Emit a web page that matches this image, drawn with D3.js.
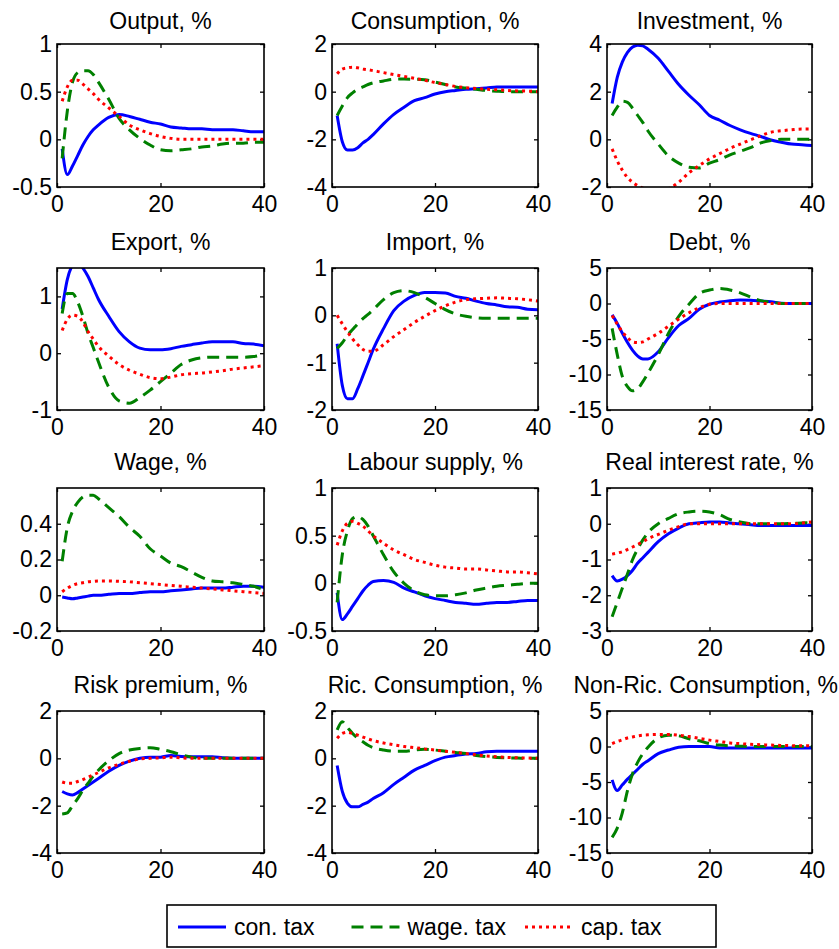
<html>
<head>
<style>
  body { margin: 0; background: #fff; }
  svg { display: block; }
  text { font-family: "Liberation Sans", Arial, sans-serif; fill: #000; }
  .tick line { stroke: #000; stroke-width: 1.3px; }
  .series { fill: none; stroke-width: 3px; stroke-linejoin: round; }
</style>
<script src="https://d3js.org/d3.v7.min.js"></script>
</head>
<body>
<div id="container"></div>
<script>

const periods = [1,2,3,4,5,6,7,8,10,12,14,16,18,20,22,24,26,28,30,32,34,36,38,40];

const titles = ["Output, %","Consumption, %","Investment, %","Export, %","Import, %","Debt, %",
  "Wage, %","Labour supply, %","Real interest rate, %","Risk premium, %","Ric. Consumption, %","Non-Ric. Consumption, %"];

const yDomains = [[-0.5,1],[-4,2],[-2,4],[-1,1.5],[-2,1],[-15,5],[-0.2,0.6],[-0.5,1],[-3,1],[-4,2],[-4,2],[-15,5]];
const yTicks = [[-0.5,0,0.5,1],[-4,-2,0,2],[-2,0,2,4],[-1,0,1],[-2,-1,0,1],[-15,-10,-5,0,5],
  [-0.2,0,0.2,0.4],[-0.5,0,0.5,1],[-3,-2,-1,0,1],[-4,-2,0,2],[-4,-2,0,2],[-15,-10,-5,0,5]];
const xTicks = [0,20,40];

const seriesNames = ["con. tax","wage. tax","cap. tax"];

// con. tax / wage. tax / cap. tax per panel
const outputCon = [-0.1,-0.37,-0.28,-0.17,-0.06,0.03,0.1,0.15,0.23,0.26,0.24,0.21,0.18,0.16,0.13,0.12,0.11,0.11,0.1,0.1,0.1,0.09,0.08,0.08];
const outputWage = [-0.2,0.3,0.6,0.7,0.72,0.72,0.68,0.6,0.42,0.22,0.1,0.01,-0.06,-0.11,-0.12,-0.11,-0.1,-0.08,-0.07,-0.05,-0.04,-0.04,-0.03,-0.03];
const outputCap = [0.4,0.55,0.62,0.62,0.58,0.53,0.48,0.42,0.33,0.24,0.15,0.1,0.06,0.03,0.01,0,0,0,0,0,0,0,0,0];

const consCon = [-1,-2.1,-2.45,-2.45,-2.35,-2.15,-2.0,-1.8,-1.35,-0.95,-0.65,-0.38,-0.25,-0.1,0,0.05,0.1,0.12,0.15,0.2,0.2,0.2,0.2,0.2];
const consWage = [-1,-0.6,-0.25,-0.05,0.1,0.2,0.3,0.37,0.45,0.52,0.53,0.52,0.5,0.4,0.3,0.2,0.15,0.1,0.05,0.02,0,0,0,0];
const consCap = [0.75,0.95,1.0,1.03,1.0,0.95,0.92,0.88,0.8,0.72,0.64,0.56,0.48,0.38,0.3,0.22,0.17,0.13,0.1,0.08,0.05,0.03,0.02,0];

const invCon = [1.5,2.6,3.25,3.65,3.87,3.95,3.92,3.78,3.4,2.85,2.3,1.85,1.45,1.0,0.8,0.58,0.4,0.25,0.12,-0.03,-0.12,-0.2,-0.23,-0.26];
const invWage = [1.0,1.35,1.6,1.55,1.3,1.0,0.7,0.35,-0.2,-0.7,-1.0,-1.17,-1.2,-1.0,-0.85,-0.65,-0.5,-0.35,-0.15,-0.05,0,0,0,0];
const invCap = [-0.4,-0.9,-1.3,-1.6,-1.8,-1.95,-2.05,-2.15,-2.2,-2.07,-1.8,-1.4,-1.1,-0.82,-0.6,-0.38,-0.2,-0.02,0.15,0.3,0.36,0.4,0.43,0.43];

const expCon = [0.78,1.3,1.55,1.62,1.5,1.35,1.15,0.95,0.65,0.38,0.2,0.09,0.06,0.06,0.08,0.12,0.15,0.18,0.2,0.2,0.2,0.17,0.16,0.13];
const expWage = [0.7,1.05,1.05,0.9,0.65,0.35,0.1,-0.15,-0.6,-0.84,-0.88,-0.78,-0.65,-0.5,-0.35,-0.2,-0.12,-0.08,-0.07,-0.07,-0.07,-0.07,-0.06,-0.02];
const expCap = [0.4,0.6,0.67,0.65,0.55,0.38,0.25,0.12,-0.05,-0.2,-0.3,-0.37,-0.43,-0.45,-0.42,-0.38,-0.36,-0.35,-0.33,-0.31,-0.28,-0.26,-0.24,-0.22];

const impCon = [-0.6,-1.48,-1.76,-1.76,-1.55,-1.28,-1.0,-0.72,-0.28,0.1,0.3,0.42,0.48,0.48,0.47,0.4,0.36,0.3,0.25,0.22,0.18,0.17,0.13,0.12];
const impWage = [-0.7,-0.58,-0.42,-0.3,-0.18,-0.07,0.02,0.12,0.33,0.48,0.52,0.48,0.38,0.25,0.12,0.03,-0.02,-0.05,-0.06,-0.06,-0.06,-0.06,-0.06,-0.06];
const impCap = [0,-0.18,-0.35,-0.5,-0.62,-0.72,-0.76,-0.76,-0.62,-0.45,-0.3,-0.15,-0.02,0.1,0.2,0.28,0.33,0.35,0.36,0.37,0.36,0.35,0.33,0.3];

const debtCon = [-1.6,-2.8,-4.2,-5.5,-6.6,-7.4,-7.8,-7.8,-6.8,-4.8,-3.1,-2.1,-0.8,-0.1,0.2,0.4,0.5,0.45,0.35,0.25,0.05,0,0,0];
const debtWage = [-3.5,-7.2,-10.3,-11.7,-12.3,-12.0,-11.0,-9.8,-7.2,-4.2,-1.8,-0.1,1.4,1.9,2.1,1.9,1.5,0.9,0.4,0.2,0,0,0,0];
const debtCap = [-1.7,-2.9,-4.0,-4.8,-5.4,-5.5,-5.4,-5.0,-4.2,-3.2,-2.2,-1.3,-0.6,-0.1,0,0,0,0,0,0,0,0,0,0];

const wageCon = [-0.01,-0.015,-0.02,-0.015,-0.01,-0.005,0,0,0.005,0.01,0.01,0.015,0.02,0.02,0.025,0.03,0.035,0.04,0.04,0.04,0.045,0.05,0.05,0.045];
const wageWage = [0.19,0.38,0.47,0.52,0.55,0.56,0.56,0.54,0.49,0.44,0.38,0.33,0.26,0.22,0.18,0.16,0.13,0.1,0.08,0.075,0.07,0.06,0.05,0.03];
const wageCap = [0.02,0.04,0.055,0.065,0.07,0.075,0.078,0.08,0.08,0.078,0.075,0.07,0.065,0.06,0.055,0.05,0.045,0.04,0.035,0.03,0.025,0.02,0.015,0.01];

const labCon = [-0.1,-0.38,-0.32,-0.24,-0.16,-0.08,-0.02,0.02,0.03,0.01,-0.05,-0.09,-0.13,-0.16,-0.18,-0.2,-0.21,-0.22,-0.21,-0.2,-0.2,-0.19,-0.18,-0.18];
const labWage = [-0.2,0.3,0.55,0.68,0.7,0.67,0.6,0.5,0.3,0.12,0,-0.08,-0.12,-0.13,-0.13,-0.12,-0.1,-0.07,-0.05,-0.03,-0.02,-0.01,0,0];
const labCap = [0.4,0.55,0.63,0.65,0.63,0.6,0.55,0.5,0.42,0.35,0.3,0.25,0.22,0.19,0.17,0.16,0.15,0.15,0.14,0.13,0.12,0.12,0.11,0.1];

const rateCon = [-1.45,-1.6,-1.55,-1.45,-1.3,-1.1,-0.95,-0.8,-0.5,-0.28,-0.12,0,0.03,0.05,0.05,0.02,0,-0.03,-0.05,-0.05,-0.05,-0.05,-0.05,-0.05];
const rateWage = [-2.6,-2.2,-1.8,-1.4,-1.0,-0.7,-0.45,-0.25,0,0.15,0.28,0.33,0.35,0.33,0.25,0.12,0.05,0,0,0,0,0.01,0.02,0.03];
const rateCap = [-0.85,-0.82,-0.78,-0.72,-0.65,-0.58,-0.5,-0.42,-0.3,-0.18,-0.08,0,0,0,0,0,0,0,0,0,0,0,0.02,0.05];

const riskCon = [-1.4,-1.5,-1.55,-1.45,-1.3,-1.15,-1.0,-0.85,-0.55,-0.3,-0.12,0,0.05,0.05,0.12,0.08,0.07,0.07,0.07,0.02,0,0,0,0];
const riskWage = [-2.35,-2.3,-2.0,-1.7,-1.35,-1.05,-0.75,-0.5,-0.1,0.2,0.35,0.42,0.45,0.38,0.28,0.15,0.05,0,0,0,0,0,0,0];
const riskCap = [-1.0,-1.05,-1.05,-0.98,-0.9,-0.8,-0.7,-0.6,-0.4,-0.25,-0.12,-0.03,0,0.02,0.05,0.02,0,0,0,0,0,0,0,0];

const ricCon = [-0.3,-1.4,-1.9,-2.05,-2.05,-1.95,-1.85,-1.7,-1.45,-1.1,-0.8,-0.5,-0.3,-0.1,0.05,0.12,0.18,0.2,0.28,0.3,0.3,0.3,0.3,0.3];
const ricWage = [1.2,1.55,1.3,1.05,0.85,0.7,0.55,0.45,0.35,0.3,0.3,0.35,0.38,0.35,0.3,0.25,0.2,0.12,0.07,0.04,0.02,0.01,0,0];
const ricCap = [0.85,1.05,1.1,1.05,0.98,0.9,0.82,0.75,0.65,0.57,0.5,0.45,0.4,0.35,0.3,0.25,0.2,0.15,0.1,0.07,0.04,0.02,0.01,0];

const nonRicCon = [-4.7,-6.2,-5.4,-4.6,-3.9,-3.2,-2.5,-2.0,-1.0,-0.5,-0.1,0,0,0,-0.2,-0.2,-0.2,-0.2,-0.2,-0.2,-0.2,-0.2,-0.2,-0.2];
const nonRicWage = [-12.8,-11.5,-9.3,-6.2,-3.8,-2.2,-1.0,-0.1,1.2,1.6,1.5,1.1,0.8,0.4,0.2,0.1,0.05,0,0,0,0,0,0,0];
const nonRicCap = [0.4,0.7,0.95,1.2,1.35,1.5,1.6,1.65,1.7,1.7,1.6,1.4,1.15,0.9,0.7,0.5,0.4,0.3,0.25,0.2,0.15,0.12,0.1,0.1];

const panelSeries = [
  [outputCon, outputWage, outputCap],
  [consCon, consWage, consCap],
  [invCon, invWage, invCap],
  [expCon, expWage, expCap],
  [impCon, impWage, impCap],
  [debtCon, debtWage, debtCap],
  [wageCon, wageWage, wageCap],
  [labCon, labWage, labCap],
  [rateCon, rateWage, rateCap],
  [riskCon, riskWage, riskCap],
  [ricCon, ricWage, ricCap],
  [nonRicCon, nonRicWage, nonRicCap]
];

// layout (pixels)
const W = 839, H = 949;
const colEdges = [[57,264],[332,538],[607,812]];
const rowEdges = [[44,187],[268,410],[488,631],[711,853]];
const colors = ["#0000ff", "#008000", "#ff0000"];
const dashes = [null, "12,7", "3,4"];
const fontSize = 23;
const legendFont = 23;

const svg = d3.select("#container").append("svg")
    .attr("width", W)
    .attr("height", H);

const defs = svg.append("defs");

panelSeries.forEach((series, i) => {
    const col = i % 3, row = Math.floor(i / 3);
    const [x0, x1] = colEdges[col];
    const [y0, y1] = rowEdges[row];

    const x = d3.scaleLinear().domain([0, 40]).range([x0, x1]);
    const y = d3.scaleLinear().domain(yDomains[i]).range([y1, y0]);

    const g = svg.append("g").attr("class", "panel");

    defs.append("clipPath").attr("id", "clip" + i)
      .append("rect")
        .attr("x", x0).attr("y", y0)
        .attr("width", x1 - x0).attr("height", y1 - y0);

    const fmt = d => String(d);

    // left axis with labels, ticks pointing in
    g.append("g")
        .attr("transform", "translate(" + x0 + ",0)")
        .call(d3.axisLeft(y).tickValues(yTicks[i]).tickSize(-4).tickPadding(5).tickFormat(fmt))
        .call(a => a.select(".domain").remove())
        .selectAll("text").style("font-size", fontSize + "px").style("font-family", "Liberation Sans, Arial, sans-serif");
    // right axis ticks only
    g.append("g")
        .attr("transform", "translate(" + x1 + ",0)")
        .call(d3.axisRight(y).tickValues(yTicks[i]).tickSize(-4).tickFormat(""))
        .call(a => a.select(".domain").remove());
    // bottom axis
    g.append("g")
        .attr("transform", "translate(0," + y1 + ")")
        .call(d3.axisBottom(x).tickValues(xTicks).tickSize(-4).tickPadding(9).tickFormat(fmt))
        .call(a => a.select(".domain").remove())
        .selectAll("text").style("font-size", fontSize + "px").style("font-family", "Liberation Sans, Arial, sans-serif");
    // top axis ticks only
    g.append("g")
        .attr("transform", "translate(0," + y0 + ")")
        .call(d3.axisTop(x).tickValues(xTicks).tickSize(-4).tickFormat(""))
        .call(a => a.select(".domain").remove());

    const line = d3.line()
        .curve(d3.curveMonotoneX)
        .x((d, k) => x(periods[k]))
        .y(d => y(d));

    const lines = g.append("g").attr("clip-path", "url(#clip" + i + ")");
    series.forEach((vals, s) => {
        lines.append("path")
            .attr("class", "series")
            .attr("d", line(vals))
            .attr("stroke", colors[s])
            .attr("stroke-dasharray", dashes[s]);
    });

    g.append("rect")
        .attr("x", x0).attr("y", y0)
        .attr("width", x1 - x0).attr("height", y1 - y0)
        .attr("fill", "none").attr("stroke", "#000").attr("stroke-width", 1.6);

    const t = g.append("text")
        .attr("x", (x0 + x1) / 2)
        .attr("y", y0 - (row === 0 ? 15 : 18))
        .attr("text-anchor", "middle")
        .style("font-size", fontSize + "px")
        .text(titles[i]);

    // keep a long title inside the page
    const bb = t.node().getBBox();
    if (bb.x + bb.width > W - 1) {
        t.attr("x", (x0 + x1) / 2 - (bb.x + bb.width - (W - 1)));
    }
});

// legend
const legend = svg.append("g").attr("class", "legend");
legend.append("rect")
    .attr("x", 167).attr("y", 905)
    .attr("width", 549).attr("height", 42)
    .attr("fill", "#fff").attr("stroke", "#000").attr("stroke-width", 1.6);

const legendX = d3.scalePoint().domain(seriesNames).range([178, 525]);
seriesNames.forEach((name, s) => {
    const lx = legendX(name);
    legend.append("line")
        .attr("x1", lx).attr("x2", lx + 48)
        .attr("y1", 927).attr("y2", 927)
        .attr("stroke", colors[s]).attr("stroke-width", 3)
        .attr("stroke-dasharray", dashes[s]);
    legend.append("text")
        .attr("x", lx + 56).attr("y", 935)
        .style("font-size", legendFont + "px")
        .text(name);
});

</script>
</body>
</html>
